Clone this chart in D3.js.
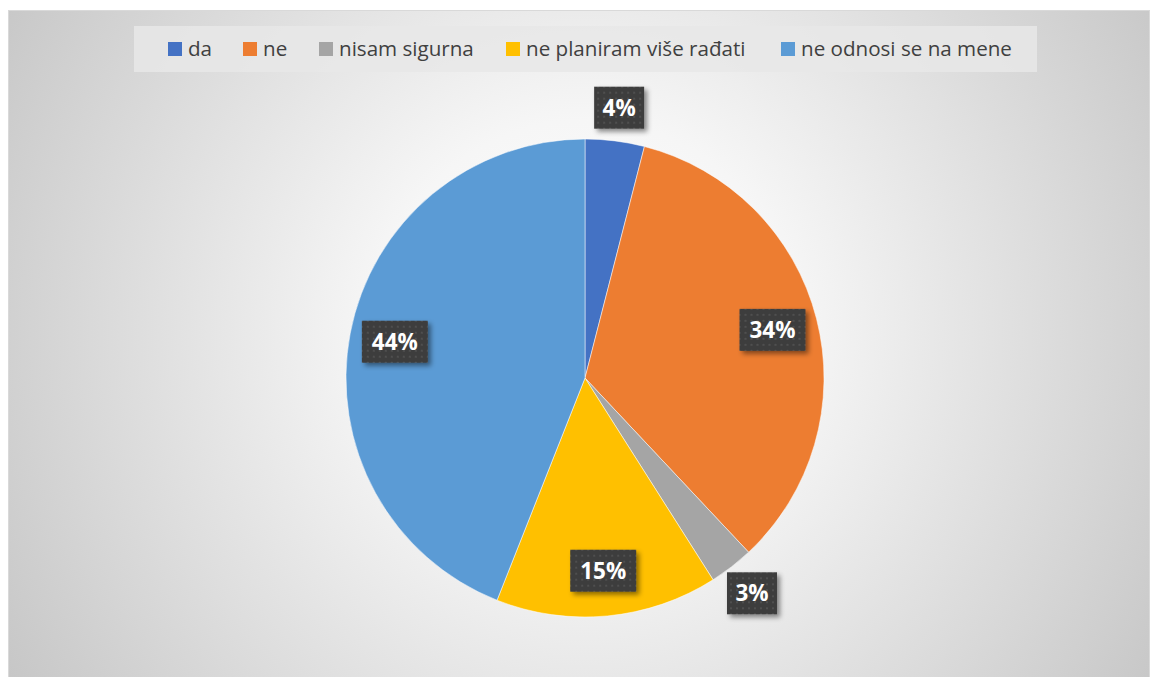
<!DOCTYPE html>
<html>
<head>
<meta charset="utf-8">
<script src="https://cdn.jsdelivr.net/npm/d3@7"></script>
<style>
  html, body { margin: 0; padding: 0; background: #fff; }
  svg { display: block; }
</style>
</head>
<body>
<script>
var categories = ["da", "ne", "nisam sigurna", "ne planiram više rađati", "ne odnosi se na mene"];
var values = [4, 34, 3, 15, 44];
var colors = ["#4472c4", "#ed7d31", "#a5a5a5", "#ffc000", "#5b9bd5"];

var width = 1150;
var height = 677;
var cx = 585, cy = 378, radius = 239;

var svg = d3.select("body")
  .append("svg")
  .attr("width", width)
  .attr("height", height);

var defs = svg.append("defs");

var grad = defs.append("radialGradient")
  .attr("id", "bg")
  .attr("gradientUnits", "userSpaceOnUse")
  .attr("cx", 585).attr("cy", 330).attr("r", 700);
grad.append("stop").attr("offset", "0").attr("stop-color", "#ffffff");
grad.append("stop").attr("offset", "0.3").attr("stop-color", "#f6f6f6");
grad.append("stop").attr("offset", "1").attr("stop-color", "#c4c4c4");

var pat = defs.append("pattern")
  .attr("id", "dots")
  .attr("patternUnits", "userSpaceOnUse")
  .attr("width", 6).attr("height", 6);
pat.append("rect").attr("width", 6).attr("height", 6).attr("fill", "#3d3d3d");
pat.append("rect").attr("x", 2).attr("y", 2).attr("width", 2).attr("height", 2).attr("fill", "#4f4f4f");

var shadow = defs.append("filter").attr("id", "shadow")
  .attr("x", "-30%").attr("y", "-30%").attr("width", "180%").attr("height", "180%");
shadow.append("feDropShadow")
  .attr("dx", 3).attr("dy", 3).attr("stdDeviation", 2.5)
  .attr("flood-color", "#000").attr("flood-opacity", 0.45);

// chart area
svg.append("rect")
  .attr("x", 8.5).attr("y", 10.5)
  .attr("width", width - 9).attr("height", height - 10)
  .attr("fill", "url(#bg)")
  .attr("stroke", "#d9d9d9");

// legend
var legend = svg.append("g");
legend.append("rect")
  .attr("x", 134).attr("y", 26)
  .attr("width", 903).attr("height", 46)
  .attr("fill", "#e8e8e8").attr("opacity", 0.85);

var legendX = [168, 243, 319, 506, 781];
var items = legend.selectAll("g.item")
  .data(categories)
  .enter()
  .append("g")
  .attr("transform", function(d, i) { return "translate(" + legendX[i] + ",42)"; });
items.append("rect")
  .attr("width", 14).attr("height", 14)
  .attr("fill", function(d, i) { return colors[i]; });
items.append("text")
  .attr("x", 20).attr("y", 14)
  .attr("font-family", "'Open Sans', sans-serif")
  .attr("font-size", "20.6px")
  .attr("fill", "#404040")
  .text(function(d) { return d; });

// pie
var pie = d3.pie().sort(null).value(function(d) { return d; });
var arcs = pie(values);
var arc = d3.arc().innerRadius(0).outerRadius(radius);

var g = svg.append("g").attr("transform", "translate(" + cx + "," + cy + ")");
g.selectAll("path")
  .data(arcs)
  .enter()
  .append("path")
  .attr("d", arc)
  .attr("fill", function(d, i) { return colors[i]; })
  .attr("stroke", "#ffffff")
  .attr("stroke-opacity", 0.5)
  .attr("stroke-width", 1);

// data labels
var inside = d3.arc().innerRadius(radius * 0.81).outerRadius(radius * 0.81);
var outside = d3.arc().innerRadius(radius * 1.14).outerRadius(radius * 1.14);

var labels = g.selectAll("g.label")
  .data(arcs)
  .enter()
  .append("g")
  .attr("transform", function(d) {
    var c = d.data >= 10 ? inside.centroid(d) : outside.centroid(d);
    return "translate(" + c[0] + "," + c[1] + ")";
  });

labels.append("rect")
  .attr("x", function(d) { return d.data >= 10 ? -33 : -25; })
  .attr("y", -21)
  .attr("width", function(d) { return d.data >= 10 ? 66 : 50; })
  .attr("height", 42)
  .attr("fill", "url(#dots)")
  .attr("filter", "url(#shadow)");

labels.append("text")
  .attr("text-anchor", "middle")
  .attr("y", 8)
  .attr("font-family", "'Open Sans', sans-serif")
  .attr("font-weight", "bold")
  .attr("font-size", "22.5px")
  .attr("fill", "#ffffff")
  .text(function(d) { return d.data + "%"; });
</script>
</body>
</html>
